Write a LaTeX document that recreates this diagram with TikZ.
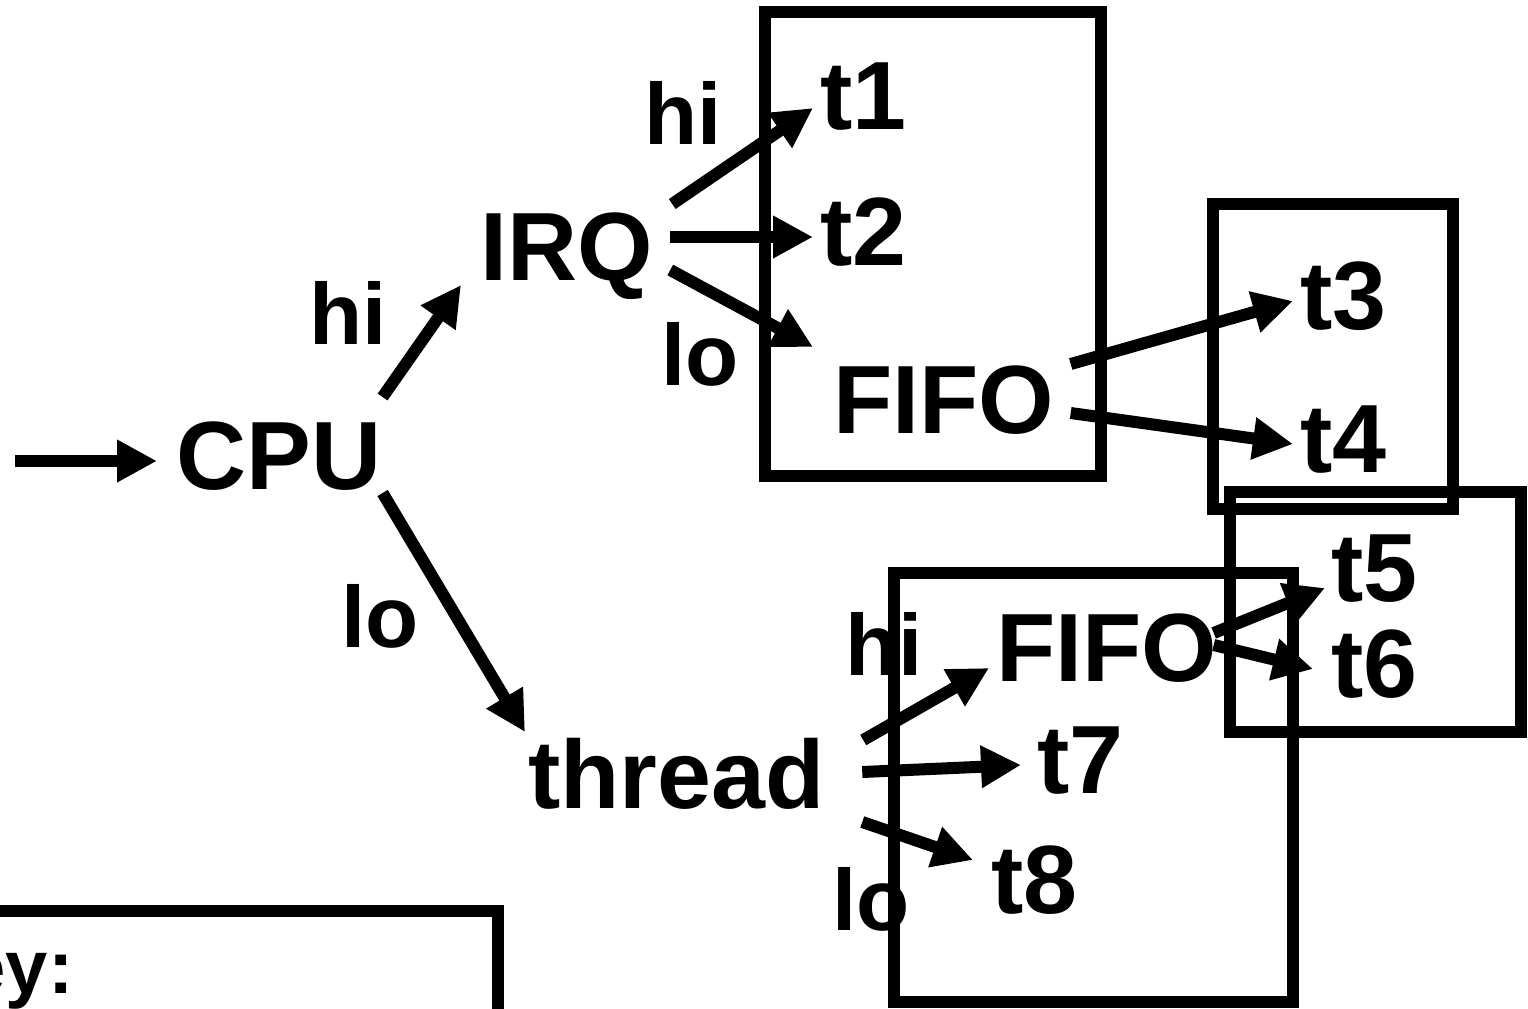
\documentclass[tikz,border=0pt]{standalone}
\usepackage{fontspec}
\setmainfont{Liberation Sans}
\usepackage{tikz}
\usetikzlibrary{arrows.meta}

\begin{document}
\begin{tikzpicture}[x=0.5pt, y=-0.5pt,
  txt/.style={inner sep=0pt, anchor=base west,
    font=\fontsize{48.5pt}{56pt}\selectfont\bfseries},
  lbl/.style={inner sep=0pt, anchor=base west,
    font=\fontsize{43.5pt}{50pt}\selectfont\bfseries},
  box/.style={line width=6.25pt},
  arr/.style={-{Triangle[length=20pt, width=20pt]}, line width=6pt}
]
\useasboundingbox (0,0) rectangle (1528,1008);
\clip (0,0) rectangle (1528,1008);
% Boxes
\draw[box] (765,12) rectangle (1101,476);
\draw[box] (1213,204) rectangle (1453,509);
\draw[box] (1230,492) rectangle (1521,732);
\draw[box] (894,573) rectangle (1293,1002);
\draw[box] (-100,911) rectangle (498,1100);
% Main nodes
\node[txt] (cpu)    at (176,489) {CPU};
\node[txt] (irq)    at (480,280) {IRQ};
\node[txt] (thread) at (528,808) {thread};
\node[txt] (fifoa)  at (833,433) {FIFO};
\node[txt] (fifob)  at (996,681) {FIFO};
\node[txt] (ta) at (820,129)  {t1};
\node[txt] (tb) at (820,265)  {t2};
\node[txt] (tc) at (1300,329) {t3};
\node[txt] (td) at (1300,472) {t4};
\node[txt] (te) at (1331,601) {t5};
\node[txt] (tf) at (1331,697) {t6};
\node[txt] (tg) at (1037,793) {t7};
\node[txt] (th) at (991,913)  {t8};
% Priority labels
\node[lbl] (hicpu) at (309,344) {hi};
\node[lbl] (locpu) at (341,647) {lo};
\node[lbl] (hiirq) at (644,144) {hi};
\node[lbl] (loirq) at (661,385) {lo};
\node[lbl] (hithr) at (845,675) {hi};
\node[lbl] (lothr) at (832,930) {lo};
\node[lbl, anchor=base east, font=\fontsize{38pt}{44pt}\selectfont\bfseries]
  (key) at (74,993) {Key:};
% Arrows
\coordinate (src) at (15,461);
\draw[arr] (src) -- ([shift={(-19,-28)}]cpu.base west);
\draw[arr] ([shift={(1,-92)}]cpu.base east) -- ([shift={(-19,5)}]irq.base west);
\draw[arr] ([shift={(1,4)}]cpu.base east) -- ([shift={(-3,-76)}]thread.base west);
\draw[arr] ([shift={(19,-76)}]irq.base east) -- ([shift={(-7,-21)}]ta.base west);
\draw[arr] ([shift={(17,-43)}]irq.base east) -- ([shift={(-7,-28)}]tb.base west);
\draw[arr] ([shift={(17,-10)}]irq.base east) -- ([shift={(-20,-86)}]fifoa.base west);
\draw[arr] ([shift={(16,-69)}]fifoa.base east) -- ([shift={(-7,-28)}]tc.base west);
\draw[arr] ([shift={(16,-20)}]fifoa.base east) -- ([shift={(-7,-28)}]td.base west);
\draw[arr] ([shift={(-4,-48)}]fifob.base east) -- ([shift={(-6,-13)}]te.base west);
\draw[arr] ([shift={(-4,-36)}]fifob.base east) -- ([shift={(-18,-28)}]tf.base west);
\draw[arr] ([shift={(38,-68)}]thread.base east) -- ([shift={(-7,-13)}]fifob.base west);
\draw[arr] ([shift={(37,-36)}]thread.base east) -- ([shift={(-16,-28)}]tg.base west);
\draw[arr] ([shift={(37,14)}]thread.base east) -- ([shift={(-18,-53)}]th.base west);
\end{tikzpicture}
\end{document}
